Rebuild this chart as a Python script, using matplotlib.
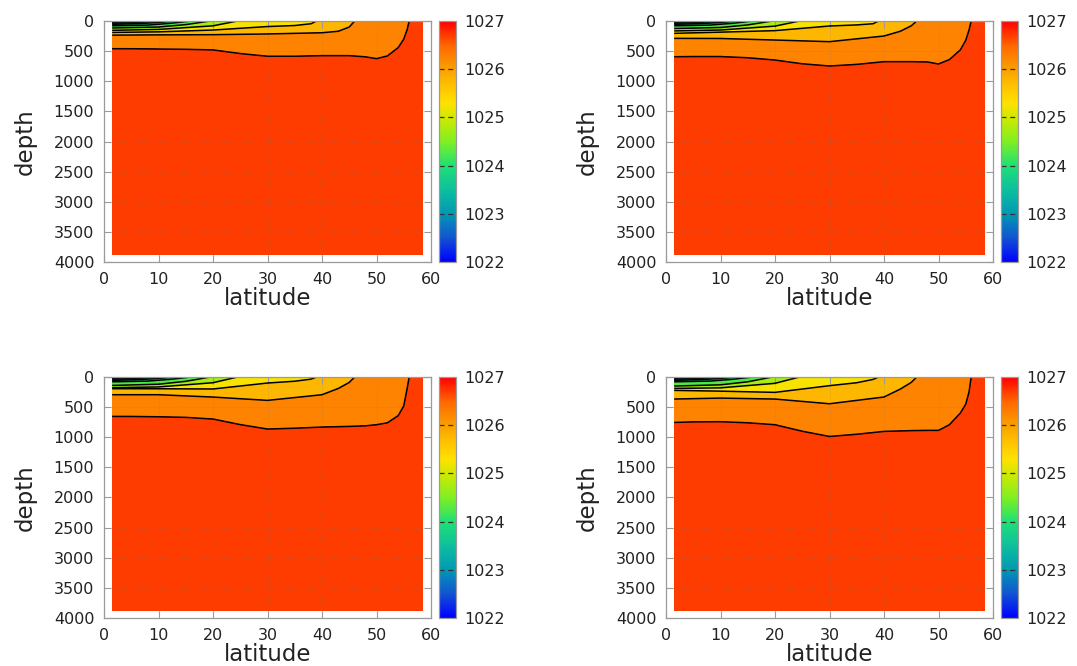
import numpy as np
import matplotlib
matplotlib.use("Agg")
import matplotlib.pyplot as plt
from matplotlib.colors import LinearSegmentedColormap, Normalize
from matplotlib.cm import ScalarMappable

W, H = 1077, 666

# section extent (outer cell edges)
LAT_WEST, LAT_EAST = 1.5, 58.5
DEPTH_BOTTOM = 3870.0
DEEP_RHO = 1026.7          # density below the deepest contour
RHO_MIN, RHO_MAX = 1022.0, 1027.0

# isopycnal depths (m), one row per panel (TL, TR, BL, BR)
LAT_2650 = [1.5, 5, 10, 15, 20, 25, 30, 35, 40, 45, 48, 50, 52, 54, 55, 55.6, 56]
DEP_2650 = [
    [460, 460, 465, 470, 480, 540, 585, 585, 575, 575, 595, 625, 580, 440, 300, 150, 0],
    [593, 590, 590, 610, 648, 710, 747, 720, 675, 675, 680, 714, 640, 480, 320, 150, 0],
    [654, 655, 660, 670, 698, 790, 864, 850, 831, 820, 810, 792, 760, 640, 480, 200, 0],
    [754, 745, 742, 760, 792, 900, 987, 950, 903, 890, 886, 886, 792, 600, 450, 250, 0],
]
LAT_2600 = [1.5, 10, 20, 30, 40, 43, 45, 46]
DEP_2600 = [
    [235, 230, 227, 215, 195, 170, 100, 0],
    [288, 290, 316, 343, 249, 170, 80, 0],
    [294, 294, 333, 388, 294, 190, 90, 0],
    [366, 350, 366, 444, 332, 200, 90, 0],
]
LAT_2550 = [1.5, 10, 20, 30, 35, 38, 39]
DEP_2550 = [
    [190, 180, 150, 92, 75, 45, 0],
    [205, 185, 160, 83, 65, 45, 0],
    [194, 195, 199, 100, 70, 35, 0],
    [222, 235, 255, 144, 95, 40, 0],
]
LAT_2500 = [1.5, 10, 20, 24.5]
DEP_2500 = [
    [155, 140, 80, 0],
    [165, 150, 85, 0],
    [178, 165, 95, 0],
    [190, 180, 105, 0],
]
LAT_2450 = [1.5, 10, 15, 19.5]
DEP_2450 = [
    [116, 100, 60, 0],
    [125, 108, 65, 0],
    [140, 120, 72, 0],
    [150, 130, 80, 0],
]
# thin surface layers, nearly identical in all panels
LAT_2400 = [1.5, 8, 12, 16]
DEP_2400 = [80, 68, 40, 0]
LAT_2350 = [1.5, 6, 10, 13]
DEP_2350 = [55, 45, 24, 0]
LAT_2300 = [1.5, 5, 8, 11]
DEP_2300 = [35, 28, 14, 0]
LAT_2250 = [1.5, 4, 6, 8]
DEP_2250 = [18, 14, 8, 0]

RHO_TICKS = [1022, 1023, 1024, 1025, 1026, 1027]
LAT_TICKS = [0, 10, 20, 30, 40, 50, 60]
DEPTH_TICKS = [0, 500, 1000, 1500, 2000, 2500, 3000, 3500, 4000]

# palette close to the gnuplot one used in the source
cmap = LinearSegmentedColormap.from_list("sect", [
    (0.00, (0.00, 0.00, 1.00)),
    (0.10, (0.07, 0.33, 0.82)),
    (0.20, (0.00, 0.60, 0.70)),
    (0.30, (0.05, 0.75, 0.62)),
    (0.40, (0.12, 0.88, 0.45)),
    (0.50, (0.50, 0.94, 0.13)),
    (0.60, (0.82, 0.91, 0.00)),
    (0.66, (1.00, 0.88, 0.00)),
    (0.72, (1.00, 0.78, 0.00)),
    (0.80, (0.98, 0.63, 0.00)),
    (0.90, (1.00, 0.40, 0.00)),
    (1.00, (1.00, 0.00, 0.00)),
])
norm = Normalize(RHO_MIN, RHO_MAX)

plt.rcParams["font.family"] = "DejaVu Sans"
GRAY = "#9a9a9a"
TXT = "#222222"

fig = plt.figure(figsize=(W / 100, H / 100), dpi=100)


def fax(l, t, r, b):
    return fig.add_axes([l / W, 1 - b / H, (r - l) / W, (b - t) / H])


def isopycnals(p):
    pick = lambda d: d[p] if isinstance(d[0], list) else d
    return [
        (1022.5, LAT_2250, pick(DEP_2250)),
        (1023.0, LAT_2300, pick(DEP_2300)),
        (1023.5, LAT_2350, pick(DEP_2350)),
        (1024.0, LAT_2400, pick(DEP_2400)),
        (1024.5, LAT_2450, pick(DEP_2450)),
        (1025.0, LAT_2500, pick(DEP_2500)),
        (1025.5, LAT_2550, pick(DEP_2550)),
        (1026.0, LAT_2600, pick(DEP_2600)),
        (1026.5, LAT_2650, pick(DEP_2650)),
    ]


panels = [(104, 21), (666, 21), (104, 377), (666, 377)]
for p, (x0, y0) in enumerate(panels):
    ax = fax(x0, y0, x0 + 327, y0 + 241)
    lev = isopycnals(p)

    # lightest water first, then each denser class painted over it
    ax.fill([LAT_WEST, LAT_EAST, LAT_EAST, LAT_WEST], [0, 0, DEPTH_BOTTOM, DEPTH_BOTTOM],
            color=cmap(norm(1022.3)), lw=0, zorder=1, antialiased=False)
    for k, (rho, lats, deps) in enumerate(lev):
        nxt = lev[k + 1][0] if k + 1 < len(lev) else None
        mid = (rho + nxt) / 2 if nxt else DEEP_RHO
        xs = [LAT_WEST] + list(lats) + [LAT_EAST, LAT_EAST]
        ys = [DEPTH_BOTTOM] + list(deps) + [0, DEPTH_BOTTOM]
        ax.fill(xs, ys, color=cmap(norm(mid)), lw=0, zorder=1, antialiased=False)
    for rho, lats, deps in lev:
        ax.plot(lats, deps, color="k", lw=1.1, zorder=3, solid_capstyle="butt")

    ax.set_xlim(0, 60)
    ax.set_ylim(4000, 0)
    ax.set_xticks(LAT_TICKS)
    ax.set_yticks(DEPTH_TICKS)
    ax.grid(True, color="#707070", ls=":", lw=0.6, alpha=0.3, zorder=2)
    ax.tick_params(direction="in", length=5, width=0.8, color=GRAY, top=True, right=True,
                   labelsize=11.5, labelcolor=TXT, pad=7)
    for s in ax.spines.values():
        s.set_color(GRAY)
        s.set_linewidth(0.9)
        s.set_zorder(4)
    ax.set_xlabel("latitude", fontsize=16.5, color=TXT, labelpad=0)
    ax.set_ylabel("depth", fontsize=16.5, color=TXT, labelpad=12)

    cax = fax(x0 + 335, y0, x0 + 352, y0 + 241)
    cb = fig.colorbar(ScalarMappable(norm=norm, cmap=cmap), cax=cax, ticks=RHO_TICKS)
    cb.outline.set_edgecolor(GRAY)
    cb.outline.set_linewidth(0.9)
    cax.tick_params(length=0, labelsize=11.5, labelcolor=TXT, pad=6)
    cax.set_yticklabels([str(t) for t in RHO_TICKS])
    cax.hlines(RHO_TICKS[1:-1], 0, 1, colors="#333333", linestyles=(0, (4, 3)), lw=0.9)

fig.savefig("out.png", dpi=100)
